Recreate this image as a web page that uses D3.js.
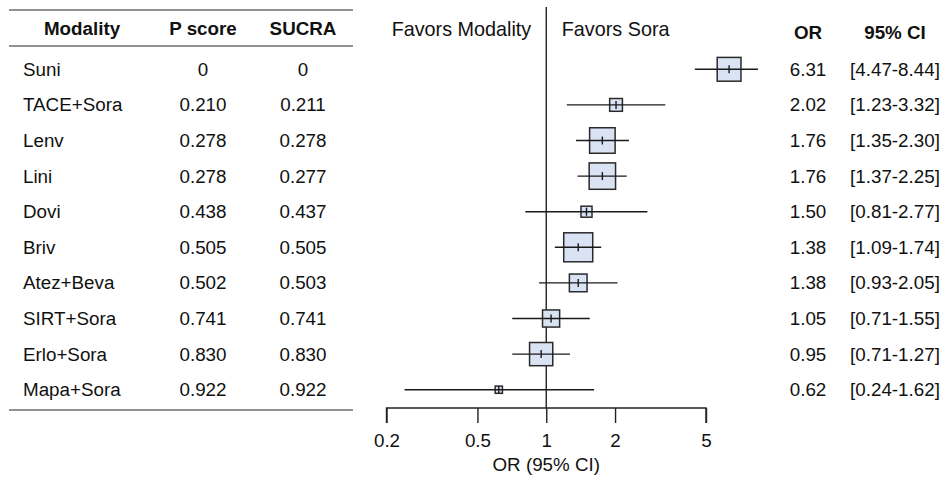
<!DOCTYPE html>
<html>
<head>
<meta charset="utf-8">
<script src="https://cdn.jsdelivr.net/npm/d3@7"></script>
<style>
  html, body { margin: 0; padding: 0; background: #fff; }
  svg { display: block; font-family: "Liberation Sans", Arial, sans-serif; }
</style>
</head>
<body>
<svg id="chart" width="944" height="477"></svg>
<script>
// ---- data ----
const modalities = ["Suni", "TACE+Sora", "Lenv", "Lini", "Dovi", "Briv", "Atez+Beva", "SIRT+Sora", "Erlo+Sora", "Mapa+Sora"];
const pScores    = ["0", "0.210", "0.278", "0.278", "0.438", "0.505", "0.502", "0.741", "0.830", "0.922"];
const sucra      = ["0", "0.211", "0.278", "0.277", "0.437", "0.505", "0.503", "0.741", "0.830", "0.922"];
const orValues   = [6.31, 2.02, 1.76, 1.76, 1.50, 1.38, 1.38, 1.05, 0.95, 0.62];
const ciLower    = [4.47, 1.23, 1.35, 1.37, 0.81, 1.09, 0.93, 0.71, 0.71, 0.24];
const ciUpper    = [8.44, 3.32, 2.30, 2.25, 2.77, 1.74, 2.05, 1.55, 1.27, 1.62];
const weights    = [0.82, 0.44, 0.88, 0.91, 0.38, 1.00, 0.61, 0.59, 0.80, 0.25];
const axisTicks  = [0.2, 0.5, 1, 2, 5];
const tableHeaders = ["Modality", "P score", "SUCRA"];
const rightHeaders = ["OR", "95% CI"];
const favorLabels  = ["Favors Modality", "Favors Sora"];
const axisTitle    = "OR (95% CI)";

const rows = modalities.map((m, i) => ({
  name: m, p: pScores[i], s: sucra[i], or: orValues[i], lo: ciLower[i], hi: ciUpper[i], w: weights[i]
}));

// ---- layout ----
const svg = d3.select("#chart");
const FS = 18.8;
const FS_FAV = 19.8;
const x = d3.scaleLog().domain([0.2, 5]).range([386.5, 706]);
const y = d3.scaleBand().domain(modalities).range([51.5, 407.5]).paddingInner(0).paddingOuter(0);
const yc = d => y(d) + y.bandwidth() / 2;
const boxSize = d3.scaleLinear().domain([0, 1]).range([0, 29]);

// ---- table (left) ----
const tableLines = [10, 46, 410];
svg.append("g").selectAll("line").data(tableLines).join("line")
  .attr("x1", 9).attr("x2", 353).attr("y1", d => d).attr("y2", d => d)
  .attr("stroke", "#6e6e6e").attr("stroke-width", 1.6);

const colX = [82, 203, 303];
svg.append("g").selectAll("text").data(tableHeaders).join("text")
  .attr("x", (d, i) => colX[i]).attr("y", 28).attr("dy", "0.35em")
  .attr("text-anchor", "middle").attr("font-weight", "bold").attr("font-size", FS).attr("fill", "#111")
  .text(d => d);

const tRows = svg.append("g").selectAll("g").data(rows).join("g")
  .attr("transform", d => `translate(0,${yc(d.name)})`);
tRows.append("text").attr("x", 23).attr("dy", "0.35em").attr("font-size", FS).attr("fill", "#111").text(d => d.name);
tRows.append("text").attr("x", colX[1]).attr("dy", "0.35em").attr("text-anchor", "middle").attr("font-size", FS).attr("fill", "#111").text(d => d.p);
tRows.append("text").attr("x", colX[2]).attr("dy", "0.35em").attr("text-anchor", "middle").attr("font-size", FS).attr("fill", "#111").text(d => d.s);

// ---- forest plot ----
const plot = svg.append("g");
// reference line at OR = 1
plot.append("line").attr("x1", x(1)).attr("x2", x(1)).attr("y1", 7).attr("y2", 408)
  .attr("stroke", "#222").attr("stroke-width", 1.4);

// favors labels
plot.append("text").attr("x", x(1) - 15).attr("y", 29).attr("dy", "0.35em").attr("text-anchor", "end")
  .attr("font-size", FS_FAV).attr("fill", "#111").text(favorLabels[0]);
plot.append("text").attr("x", x(1) + 15.5).attr("y", 29).attr("dy", "0.35em").attr("text-anchor", "start")
  .attr("font-size", FS_FAV).attr("fill", "#111").text(favorLabels[1]);

const marks = plot.append("g").selectAll("g").data(rows).join("g");
marks.append("rect")
  .attr("x", d => x(d.or) - boxSize(d.w) / 2)
  .attr("y", d => yc(d.name) - boxSize(d.w) / 2)
  .attr("width", d => boxSize(d.w)).attr("height", d => boxSize(d.w))
  .attr("fill", "#dae3f3").attr("stroke", "#2a2a2a").attr("stroke-width", 1.5);
marks.append("line")
  .attr("x1", d => x(d.lo)).attr("x2", d => x(d.hi))
  .attr("y1", d => yc(d.name)).attr("y2", d => yc(d.name))
  .attr("stroke", "#1a1a1a").attr("stroke-width", 1.4);
marks.append("line")
  .attr("x1", d => x(d.or)).attr("x2", d => x(d.or))
  .attr("y1", d => yc(d.name) - Math.min(4, boxSize(d.w) / 2))
  .attr("y2", d => yc(d.name) + Math.min(4, boxSize(d.w) / 2))
  .attr("stroke", "#1a1a1a").attr("stroke-width", 1.4);

// axis
const axis = d3.axisBottom(x).tickValues(axisTicks).tickFormat(d3.format("~g")).tickSizeOuter(0).tickSizeInner(15).tickPadding(11);
const ag = svg.append("g").attr("transform", "translate(0,408)").call(axis);
ag.select(".domain").attr("d", `M${x(0.2)},15V0H${x(5)}V15`).attr("stroke", "#222").attr("stroke-width", 1.4);
ag.selectAll(".tick line").attr("stroke", "#222").attr("stroke-width", 1.4);
ag.selectAll(".tick text").attr("font-size", FS).attr("font-family", "Liberation Sans, Arial, sans-serif").attr("fill", "#111");

svg.append("text").attr("x", x(1)).attr("y", 464).attr("dy", "0.35em").attr("text-anchor", "middle")
  .attr("font-size", FS).attr("fill", "#111").text(axisTitle);

// ---- right columns ----
const rX = [808, 895];
svg.append("g").selectAll("text").data(rightHeaders).join("text")
  .attr("x", (d, i) => rX[i]).attr("y", 32.5).attr("dy", "0.35em").attr("text-anchor", "middle")
  .attr("font-weight", "bold").attr("font-size", FS).attr("fill", "#111").text(d => d);
const rRows = svg.append("g").selectAll("g").data(rows).join("g")
  .attr("transform", d => `translate(0,${yc(d.name)})`);
rRows.append("text").attr("x", rX[0]).attr("dy", "0.35em").attr("text-anchor", "middle").attr("font-size", FS).attr("fill", "#111")
  .text(d => d.or.toFixed(2));
rRows.append("text").attr("x", rX[1]).attr("dy", "0.35em").attr("text-anchor", "middle").attr("font-size", FS).attr("fill", "#111")
  .text(d => `[${d.lo.toFixed(2)}-${d.hi.toFixed(2)}]`);
</script>
</body>
</html>
